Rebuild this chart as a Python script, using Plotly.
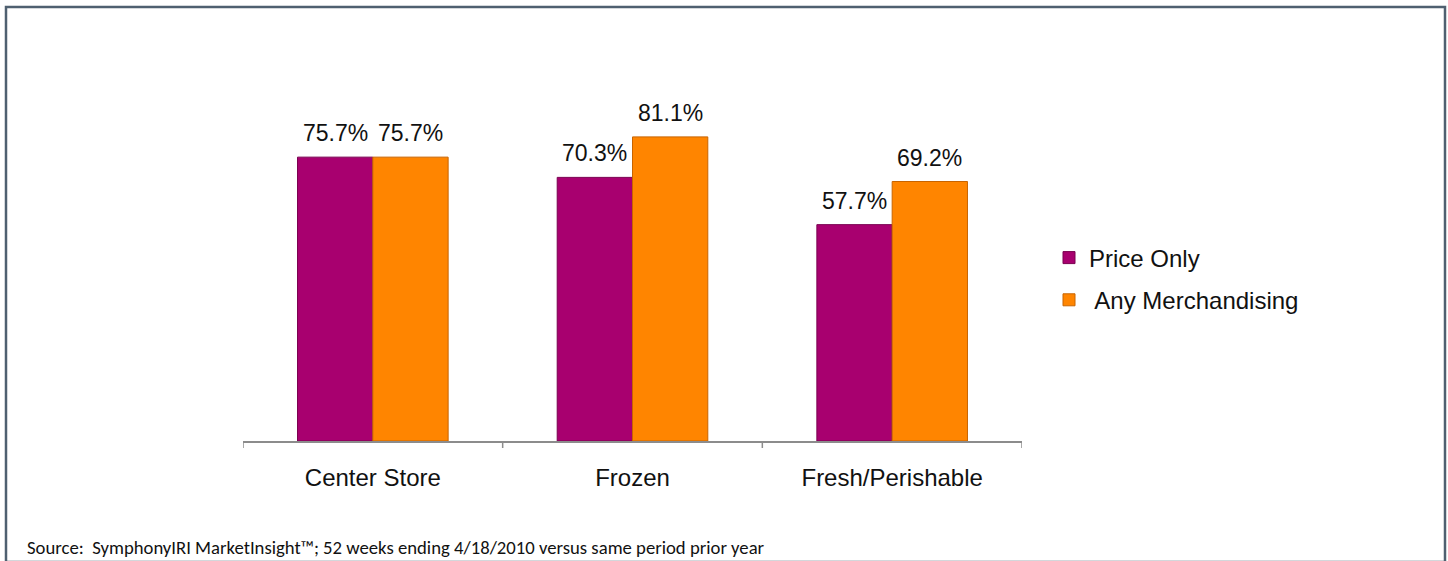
import plotly.graph_objects as go

categories = ["Center Store", "Frozen", "Fresh/Perishable"]
price_only = [75.7, 70.3, 57.7]
any_merch = [75.7, 81.1, 69.2]
series_names = ["Price Only", " Any Merchandising"]
source_text = "Source:  SymphonyIRI MarketInsight\u2122; 52 weeks ending 4/18/2010 versus same period prior year"

W, H = 1448, 561
L, R, T, B = 243, 426, 66, 120
pw, ph = W - L - R, H - T - B
BARGAP = 0.42
half = (1 - BARGAP) / 4  # offset of each bar centre from category centre

def px_x(x):
    return (x - L) / pw

def px_y(y):
    return (H - B - y) / ph

colors = ["#A8006F", "#FF8500"]
edges = ["#7A0050", "#C86400"]

fig = go.Figure()
annotations = []
for k, (vals, name) in enumerate(zip([price_only, any_merch], series_names)):
    fig.add_trace(go.Bar(
        x=list(range(len(categories))), y=vals, name=name, legendgroup=f"g{k}",
        marker=dict(color=colors[k], line=dict(color=edges[k], width=1)),
    ))
    for i, v in enumerate(vals):
        annotations.append(dict(
            x=i + (-half if k == 0 else half), y=v, xref="x", yref="y",
            text=f"{v:.1f}%", showarrow=False, xanchor="center", yanchor="bottom",
            yshift=9, font=dict(size=23, color="#111111"),
        ))

annotations.append(dict(text=source_text, xref="paper", yref="paper",
                        x=px_x(25), y=px_y(547), xanchor="left", yanchor="middle",
                        showarrow=False,
                        font=dict(family="Carlito, Calibri, Open Sans, sans-serif", size=18.7, color="#111111")))

fig.update_layout(
    width=W, height=H,
    margin=dict(l=L, r=R, t=T, b=B),
    paper_bgcolor="white", plot_bgcolor="white",
    font=dict(family="Liberation Sans, Arial, sans-serif", color="#111111"),
    barmode="group", bargap=BARGAP, bargroupgap=0,
    showlegend=True,
    legend=dict(x=px_x(1049), xanchor="left", y=px_y(279), yanchor="middle",
                font=dict(size=24), traceorder="grouped", tracegroupgap=8,
                itemwidth=30, bgcolor="rgba(0,0,0,0)"),
    xaxis=dict(showline=True, linecolor="#8C8C8C", linewidth=1.5,
               tickmode="array", tickvals=list(range(len(categories))), ticktext=categories,
               range=[-0.5, len(categories) - 0.5],
               ticks="", tickfont=dict(size=24), ticklabelstandoff=14, showgrid=False),
    yaxis=dict(range=[0, 100], visible=False, showgrid=False),
    shapes=[dict(type="rect", xref="paper", yref="paper",
                 x0=px_x(6), x1=px_x(1445), y0=px_y(562), y1=px_y(7),
                 line=dict(color="#4F6070", width=2.5), fillcolor="rgba(0,0,0,0)")]
           + [dict(type="line", xref="x", yref="paper", x0=b, x1=b,
                   y0=0, y1=px_y(448), line=dict(color="#8C8C8C", width=1.5))
              for b in [i - 0.5 for i in range(len(categories) + 1)]],
    annotations=annotations,
)

fig.write_html("out.html")
